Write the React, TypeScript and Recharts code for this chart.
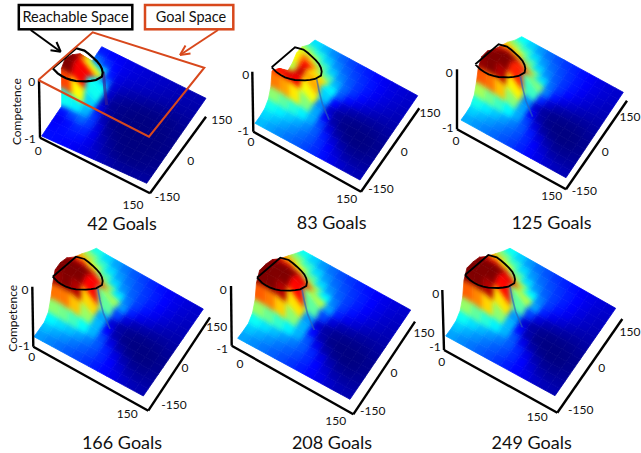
import React from "react";
import { ReferenceLine, Scatter, ScatterChart, XAxis, YAxis } from "recharts";

const W = 641;
const H = 453;

const goalCounts = [42, 83, 125, 166, 208, 249];
const competenceTickLabels = ["0", "-1"];
const xTickLabels = ["0", "150"];
const yTickLabels = ["-150", "0", "150"];

// surface level per grid node, 0 = dark blue, 100 = dark red
// rows run from y=150 down to y=-150, columns from x=0 to x=150
const levels42 = [
  [18, 16, 15, 14, 13, 12, 11, 10, 10, 9, 8, 8, 7],
  [22, 19, 17, 15, 13, 12, 11, 10, 9, 8, 7, 7, 7],
  [40, 30, 20, 15, 12, 11, 10, 9, 8, 7, 7, 6, 6],
  [84, 80, 25, 14, 11, 9, 8, 7, 6, 5, 5, 5, 5],
  [94, 98, 60, 14, 8, 6, 4, 3, 2, 2, 2, 3, 4],
  [100, 100, 84, 14, 5, 3, 2, 1, 1, 1, 1, 2, 3],
  [96, 92, 66, 12, 4, 2, 1, 0, 0, 0, 1, 1, 3],
  [72, 60, 46, 30, 8, 2, 1, 0, 0, 0, 0, 1, 2],
  [18, 25, 34, 30, 18, 4, 1, 0, 0, 0, 0, 1, 2],
  [14, 16, 20, 24, 18, 9, 4, 1, 0, 0, 1, 1, 2],
  [15, 16, 18, 20, 18, 11, 6, 3, 1, 1, 1, 2, 3],
  [18, 18, 18, 17, 15, 12, 8, 5, 3, 2, 3, 3, 4],
  [18, 17, 16, 15, 14, 13, 11, 9, 7, 6, 6, 6, 6],
];
const levels83 = [
  [38, 34, 30, 27, 24, 21, 19, 17, 15, 13, 12, 11, 10],
  [46, 42, 37, 31, 27, 24, 21, 19, 17, 14, 13, 11, 10],
  [60, 58, 46, 36, 30, 26, 23, 20, 17, 14, 12, 10, 9],
  [62, 76, 66, 48, 36, 29, 24, 20, 16, 13, 11, 9, 8],
  [55, 72, 88, 76, 44, 32, 24, 18, 14, 11, 9, 8, 7],
  [52, 62, 86, 92, 62, 30, 16, 11, 9, 7, 6, 6, 6],
  [78, 84, 90, 90, 46, 14, 7, 4, 3, 3, 3, 4, 5],
  [88, 88, 86, 78, 48, 14, 6, 3, 1, 1, 1, 2, 4],
  [66, 62, 56, 50, 44, 30, 12, 3, 1, 0, 0, 1, 3],
  [50, 46, 42, 38, 34, 30, 22, 12, 5, 2, 1, 2, 4],
  [42, 40, 37, 34, 31, 28, 24, 18, 12, 6, 4, 4, 5],
  [38, 36, 33, 31, 28, 26, 23, 19, 15, 10, 7, 6, 6],
  [36, 34, 31, 29, 27, 25, 22, 20, 17, 14, 12, 10, 9],
];
const levels125 = [
  [40, 36, 32, 28, 25, 22, 20, 18, 16, 14, 12, 11, 10],
  [50, 46, 38, 32, 28, 25, 22, 20, 17, 15, 13, 11, 10],
  [64, 60, 48, 38, 31, 27, 23, 20, 17, 14, 12, 10, 9],
  [74, 78, 70, 50, 37, 29, 24, 20, 16, 13, 11, 9, 8],
  [84, 92, 94, 86, 58, 34, 24, 18, 14, 11, 9, 8, 7],
  [92, 98, 100, 98, 88, 40, 20, 11, 9, 7, 6, 6, 6],
  [94, 100, 100, 94, 50, 15, 7, 4, 3, 3, 3, 4, 5],
  [88, 90, 90, 78, 46, 14, 6, 3, 1, 1, 1, 2, 4],
  [70, 66, 60, 54, 44, 30, 12, 3, 1, 0, 0, 1, 3],
  [52, 46, 42, 37, 33, 29, 22, 12, 5, 2, 1, 2, 4],
  [42, 39, 36, 33, 30, 27, 24, 18, 12, 6, 4, 4, 5],
  [37, 35, 32, 30, 27, 25, 22, 18, 15, 10, 7, 6, 6],
  [34, 32, 30, 28, 26, 24, 21, 19, 16, 14, 12, 10, 9],
];
const levels166 = [
  [42, 37, 33, 29, 26, 23, 21, 18, 16, 14, 13, 11, 10],
  [54, 47, 39, 33, 29, 26, 23, 20, 18, 15, 13, 11, 10],
  [68, 60, 48, 38, 31, 27, 24, 21, 18, 15, 12, 10, 9],
  [80, 80, 68, 50, 37, 30, 25, 21, 17, 14, 11, 9, 8],
  [92, 96, 96, 90, 60, 36, 25, 19, 15, 12, 9, 8, 7],
  [96, 100, 100, 100, 92, 46, 22, 12, 10, 8, 6, 6, 6],
  [96, 100, 100, 96, 52, 17, 8, 5, 3, 3, 3, 4, 5],
  [86, 88, 88, 78, 50, 15, 6, 3, 1, 1, 1, 2, 4],
  [66, 66, 62, 54, 46, 32, 13, 3, 1, 0, 0, 1, 3],
  [48, 44, 42, 38, 34, 29, 23, 13, 6, 2, 1, 2, 4],
  [40, 37, 35, 32, 29, 27, 24, 19, 13, 7, 4, 4, 5],
  [36, 33, 31, 29, 26, 24, 21, 18, 15, 10, 7, 6, 6],
  [32, 30, 28, 26, 24, 23, 20, 18, 16, 14, 11, 9, 8],
];
const levels208 = [
  [40, 36, 32, 28, 25, 22, 20, 18, 16, 14, 13, 12, 10],
  [53, 46, 38, 32, 28, 25, 22, 20, 18, 15, 13, 11, 10],
  [67, 60, 48, 38, 31, 27, 24, 21, 18, 15, 12, 10, 9],
  [80, 80, 70, 51, 38, 30, 25, 21, 17, 14, 11, 9, 8],
  [92, 96, 96, 92, 62, 38, 25, 19, 15, 12, 9, 8, 7],
  [96, 100, 100, 100, 92, 48, 22, 12, 10, 8, 6, 6, 6],
  [98, 100, 100, 96, 50, 16, 8, 5, 3, 3, 3, 4, 5],
  [90, 90, 88, 78, 48, 15, 6, 3, 1, 1, 1, 2, 4],
  [68, 65, 60, 52, 45, 33, 14, 3, 1, 0, 0, 1, 3],
  [50, 45, 41, 36, 33, 29, 24, 14, 6, 2, 1, 2, 4],
  [41, 38, 35, 32, 29, 27, 24, 20, 13, 7, 4, 4, 5],
  [36, 34, 31, 29, 26, 24, 21, 18, 15, 10, 7, 6, 6],
  [33, 31, 29, 27, 25, 23, 20, 18, 16, 14, 11, 9, 8],
];
const levels249 = [
  [40, 36, 32, 28, 25, 22, 20, 18, 16, 14, 13, 12, 10],
  [52, 46, 38, 32, 28, 25, 22, 20, 18, 15, 13, 11, 10],
  [66, 60, 48, 38, 31, 27, 24, 21, 18, 15, 12, 10, 9],
  [80, 80, 70, 52, 38, 30, 25, 21, 17, 14, 11, 9, 8],
  [92, 96, 96, 92, 62, 40, 25, 19, 15, 12, 9, 8, 7],
  [96, 100, 100, 100, 92, 46, 22, 12, 10, 8, 6, 6, 6],
  [98, 100, 100, 96, 50, 16, 8, 5, 3, 3, 3, 4, 5],
  [90, 90, 88, 78, 48, 15, 6, 3, 1, 1, 1, 2, 4],
  [68, 64, 58, 52, 45, 34, 14, 3, 1, 0, 0, 1, 3],
  [50, 45, 40, 36, 33, 29, 24, 14, 6, 2, 1, 2, 4],
  [42, 38, 35, 32, 29, 27, 24, 20, 13, 7, 4, 4, 5],
  [36, 34, 31, 29, 26, 24, 21, 18, 15, 10, 7, 6, 6],
  [33, 31, 29, 27, 25, 23, 20, 18, 16, 14, 11, 9, 8],
];
const allLevels = [levels42, levels83, levels125, levels166, levels208, levels249];

type Pt = [number, number];

// where each panel sits on the page
const panels: {
  left: Pt; front: Pt; right: Pt; back: Pt;
  zTop: Pt; origin: Pt; axisFront: Pt; axisRight: Pt;
  outlineAt: Pt; title: Pt;
  zLabels: Pt[]; xLabels: Pt[]; yLabels: Pt[];
  ylabel?: Pt;
}[] = [
  {
    left: [41.7, 136], front: [146.7, 183.3], right: [206, 98.3], back: [101.7, 46.7],
    zTop: [39, 80], origin: [40, 137.7], axisFront: [150, 193.3], axisRight: [206, 116.7],
    outlineAt: [52.7, 68.3], title: [122, 222.5],
    zLabels: [[31.7, 81.7], [30, 138.3]], xLabels: [[38.3, 150], [133, 204]],
    yLabels: [[167.3, 196.7], [190.7, 160], [221.7, 119.3]], ylabel: [16.7, 111.7],
  },
  {
    left: [255, 123.3], front: [360, 180], right: [417.7, 95.7], back: [315, 40],
    zTop: [252.3, 71.7], origin: [253.3, 131.7], axisFront: [361, 191.7], axisRight: [419.3, 108.3],
    outlineAt: [271.7, 67.3], title: [331.7, 221.7],
    zLabels: [[245.7, 74], [243.3, 130]], xLabels: [[251, 141.7], [346.7, 198.3]],
    yLabels: [[381, 188.3], [404.3, 151.7], [430, 112]],
  },
  {
    left: [461, 120], front: [566, 177.7], right: [623.3, 92.3], back: [521.7, 36.7],
    zTop: [457, 69.3], origin: [457, 129.3], axisFront: [566, 189.3], axisRight: [627, 100.7],
    outlineAt: [475.3, 64.3], title: [551.5, 221.7],
    zLabels: [[449.3, 72.3], [447.7, 127]], xLabels: [[456, 140], [551.7, 195.7]],
    yLabels: [[584.3, 190], [605.3, 151.7], [630, 116]],
  },
  {
    left: [34, 336.7], front: [143.3, 396], right: [203.3, 309], back: [96.7, 249],
    zTop: [32.3, 286.7], origin: [33.3, 346.7], axisFront: [148.3, 410.7], axisRight: [210, 317.3],
    outlineAt: [52.7, 276.7], title: [122, 441.7],
    zLabels: [[25, 289.3], [24, 345.7]], xLabels: [[31.7, 356.7], [127.3, 413.3]],
    yLabels: [[174, 404], [185, 367.3], [216.7, 326.7]], ylabel: [12.3, 318.3],
  },
  {
    left: [237.7, 338.3], front: [350, 399.3], right: [410.7, 310], back: [303.3, 250.7],
    zTop: [231, 286], origin: [231.7, 345.7], axisFront: [353.3, 414.3], axisRight: [415, 321.7],
    outlineAt: [257, 277.7], title: [332, 441.7],
    zLabels: [[223.3, 289.3], [222.3, 348.3]], xLabels: [[240, 363.3], [335.7, 420]],
    yLabels: [[372.7, 410.7], [394, 372.3], [424, 332.3]],
  },
  {
    left: [445.7, 336], front: [555, 395.7], right: [615.7, 308.3], back: [510, 248.3],
    zTop: [442.3, 290], origin: [444, 350], axisFront: [557.3, 412.7], axisRight: [622.3, 319],
    outlineAt: [465, 275], title: [531.7, 441.7],
    zLabels: [[435.7, 293.3], [435, 346.5]], xLabels: [[441.7, 361.5], [537.3, 416.7]],
    yLabels: [[580.7, 409], [601.7, 367.7], [630, 331.7]],
  },
];

// reachable space boundary, offsets from its sharp corner
const outlineShape: Pt[] = [
  [0, 0], [23.3, -20], [31.7, -17.7], [36, -14.5], [40, -11], [44, -7.2], [47.3, -3.3], [49.2, 0.5], [50, 4.3],
  [49.3, 8.3], [43.3, 11.7], [38.3, 12.5], [33.3, 13], [23.3, 12.7], [18.3, 11.6], [13.3, 10], [9, 7.7], [5, 5], [0, 0],
];

// thin valley running down from the reachable space, same offsets
const creaseShape: Pt[] = [[45, 11.7], [47.3, 23.3], [50.7, 36.7], [57.3, 52.3]];
const creaseShape42: Pt[] = [[50.7, 3.3], [52, 20], [54, 36.7]];

const goalSpace: Pt[] = [[38.3, 80], [92.7, 32.3], [204.3, 67.7], [149, 136.7], [38.3, 80]];

function jet(level: number) {
  const base = Math.pow(Math.min(1, Math.max(0, level / 100)), 1.15);
  const t = Math.min(1, base + Math.max(0, base - 0.6) * 0.2);
  const ramp = (c: number) => Math.round(255 * Math.min(1, Math.max(0, 1.5 - Math.abs(4 * t - c))));
  return `rgb(${ramp(3)},${ramp(2)},${ramp(1)})`;
}

function lift(level: number) {
  const l = level / 100;
  return 35 * Math.max(0, l - 0.4) + 30 * Math.max(0, l - 0.85);
}

function buildCells(panelIndex: number) {
  const p = panels[panelIndex];
  const rows = allLevels[panelIndex];
  const n = rows.length - 1;
  const vertex = (j: number, i: number): Pt => {
    const u = i / n;
    const v = 1 - j / n;
    const up = lift(rows[j][i]);
    const x = p.left[0] * (1 - u) * (1 - v) + p.front[0] * u * (1 - v) + p.back[0] * (1 - u) * v + p.right[0] * u * v;
    const y = p.left[1] * (1 - u) * (1 - v) + p.front[1] * u * (1 - v) + p.back[1] * (1 - u) * v + p.right[1] * u * v;
    return [x - 0.45 * up, y - up];
  };
  const cells = [];
  for (let j = 0; j < n; j++) {
    for (let i = 0; i < n; i++) {
      const corners = [vertex(j, i), vertex(j, i + 1), vertex(j + 1, i + 1), vertex(j + 1, i)];
      const x = corners.reduce((s, c) => s + c[0], 0) / 4;
      const y = corners.reduce((s, c) => s + c[1], 0) / 4;
      const level = (rows[j][i] + rows[j][i + 1] + rows[j + 1][i] + rows[j + 1][i + 1]) / 4;
      cells.push({ x, y, level, offsets: corners.map((c) => [c[0] - x, c[1] - y]) });
    }
  }
  return cells;
}

// one unit on the hidden axes is one pixel, so the offsets can be added to cx, cy
function CellShape(props: any) {
  const { cx, cy, payload } = props;
  const points = payload.offsets.map((o: number[]) => `${cx + o[0]},${cy + o[1]}`).join(" ");
  const fill = jet(payload.level);
  return <polygon points={points} fill={fill} stroke={fill} strokeWidth={0.8} />;
}

const noShape = () => null;

const chartProps = { width: W, height: H, margin: { top: 0, right: 0, bottom: 0, left: 0 } };

function Label({ at, children, size = 12, rotate }: { at: Pt; children: React.ReactNode; size?: number; rotate?: number }) {
  return (
    <text
      x={at[0]}
      y={at[1]}
      textAnchor="middle"
      dominantBaseline="central"
      fontFamily="Lato, sans-serif"
      fontSize={size}
      fill="#111"
      transform={rotate ? `rotate(${rotate} ${at[0]} ${at[1]})` : undefined}
    >
      {children}
    </text>
  );
}

function seg(a: Pt, b: Pt, stroke: string, width: number, key: string) {
  return (
    <ReferenceLine
      key={key}
      segment={[{ x: a[0], y: a[1] }, { x: b[0], y: b[1] }]}
      stroke={stroke}
      strokeWidth={width}
      ifOverflow="visible"
    />
  );
}

const orange = "#d8481c";

export default function App() {
  return (
    <div style={{ position: "absolute", left: 0, top: 0, width: W, height: H, background: "#fff", overflow: "hidden" }}>
      <svg width={0} height={0} style={{ position: "absolute" }}>
        <filter id="smooth" x="0" y="0" width="100%" height="100%" colorInterpolationFilters="sRGB">
          <feGaussianBlur in="SourceGraphic" stdDeviation="2.4" />
          <feComponentTransfer>
            <feFuncA type="linear" slope="4" />
          </feComponentTransfer>
          <feComposite in2="SourceAlpha" operator="in" />
        </filter>
      </svg>
      <div style={{ position: "absolute", left: 0, top: 0, filter: "url(#smooth)" }}>
        <ScatterChart {...chartProps}>
          <XAxis type="number" dataKey="x" domain={[0, W]} hide />
          <YAxis type="number" dataKey="y" domain={[0, H]} reversed hide />
          {panels.map((_, idx) => (
            <Scatter key={idx} data={buildCells(idx)} shape={CellShape} isAnimationActive={false} />
          ))}
        </ScatterChart>
      </div>
      <div style={{ position: "absolute", left: 0, top: 0 }}>
        <ScatterChart {...chartProps}>
          <XAxis type="number" dataKey="x" domain={[0, W]} hide />
          <YAxis type="number" dataKey="y" domain={[0, H]} reversed hide />
          {panels.map((p, idx) => [
            seg(p.zTop, p.origin, "#000", 2.4, `z${idx}`),
            seg(p.origin, p.axisFront, "#000", 2.4, `x${idx}`),
            seg(p.axisFront, p.axisRight, "#000", 2.4, `y${idx}`),
          ])}
          {panels.map((p, idx) => (
            <Scatter
              key={`crease${idx}`}
              data={(idx === 0 ? creaseShape42 : creaseShape).map((o) => ({ x: p.outlineAt[0] + o[0], y: p.outlineAt[1] + o[1] }))}
              line={{ stroke: idx === 0 ? "#3b1f8f" : "#2b62b8", strokeWidth: idx === 0 ? 3 : 1.6, strokeOpacity: 0.65 }}
              lineType="joint"
              shape={noShape}
              isAnimationActive={false}
            />
          ))}
          {panels.map((p, idx) => (
            <Scatter
              key={`outline${idx}`}
              data={outlineShape.map((o) => ({ x: p.outlineAt[0] + o[0], y: p.outlineAt[1] + o[1] }))}
              line={{ stroke: "#000", strokeWidth: idx === 0 ? 2.2 : 1.8 }}
              lineType="joint"
              shape={noShape}
              isAnimationActive={false}
            />
          ))}
          <Scatter
            data={goalSpace.map((o) => ({ x: o[0], y: o[1] }))}
            line={{ stroke: orange, strokeWidth: 2 }}
            lineType="joint"
            shape={noShape}
            isAnimationActive={false}
          />
          {seg([30.7, 30], [60.7, 51.7], "#000", 2, "arrowA")}
          {seg([60.7, 51.7], [50.5, 50.3], "#000", 2, "arrowA1")}
          {seg([60.7, 51.7], [56.5, 42], "#000", 2, "arrowA2")}
          {seg([218, 30], [180, 55], orange, 2, "arrowB")}
          {seg([180, 55], [190.5, 53.5], orange, 2, "arrowB1")}
          {seg([180, 55], [185.5, 45.5], orange, 2, "arrowB2")}
          <rect x={18.8} y={5} width={113.5} height={24.3} fill="#fff" stroke="#000" strokeWidth={2.5} />
          <rect x={145} y={5} width={88.3} height={24.3} fill="#fff" stroke={orange} strokeWidth={2.5} />
          <Label at={[75.5, 16.5]} size={14.5}>Reachable Space</Label>
          <Label at={[191, 16.5]} size={14.5}>Goal Space</Label>
          {panels.map((p, idx) => (
            <g key={`labels${idx}`}>
              <Label at={p.title} size={18}>{`${goalCounts[idx]} Goals`}</Label>
              {competenceTickLabels.map((t, k) => <Label key={`c${k}`} at={p.zLabels[k]}>{t}</Label>)}
              {xTickLabels.map((t, k) => <Label key={`x${k}`} at={p.xLabels[k]}>{t}</Label>)}
              {yTickLabels.map((t, k) => <Label key={`y${k}`} at={p.yLabels[k]}>{t}</Label>)}
              {p.ylabel ? <Label at={p.ylabel} size={12} rotate={-90}>Competence</Label> : null}
            </g>
          ))}
        </ScatterChart>
      </div>
    </div>
  );
}
